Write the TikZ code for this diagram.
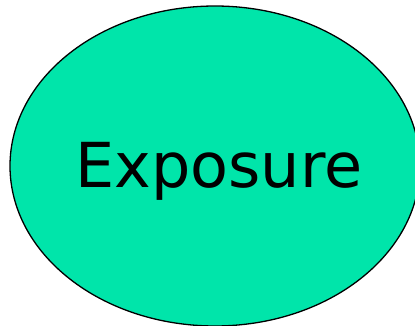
\documentclass[tikz,border=0pt]{standalone}
\usepackage{fontspec}
\setmainfont{DejaVu Sans}
\usetikzlibrary{shapes.geometric}
\definecolor{expgreen}{HTML}{00E5AA}
\tikzset{
  factor/.style={ellipse, draw=black, line width=1.3pt, fill=expgreen,
    minimum width=410pt, minimum height=320pt, inner sep=0pt},
  factorlabel/.style={anchor=base, font=\fontsize{62}{74}\selectfont}
}
\begin{document}
\begin{tikzpicture}[x=1pt,y=1pt]
  \useasboundingbox (0,0) rectangle (415,-326);
  % Exposure ellipse
  \node[factor] (exposure) at (215,-166) {};
  \node[factorlabel] (explabel) at (219,-187.3) {Exposure};
\end{tikzpicture}
\end{document}
